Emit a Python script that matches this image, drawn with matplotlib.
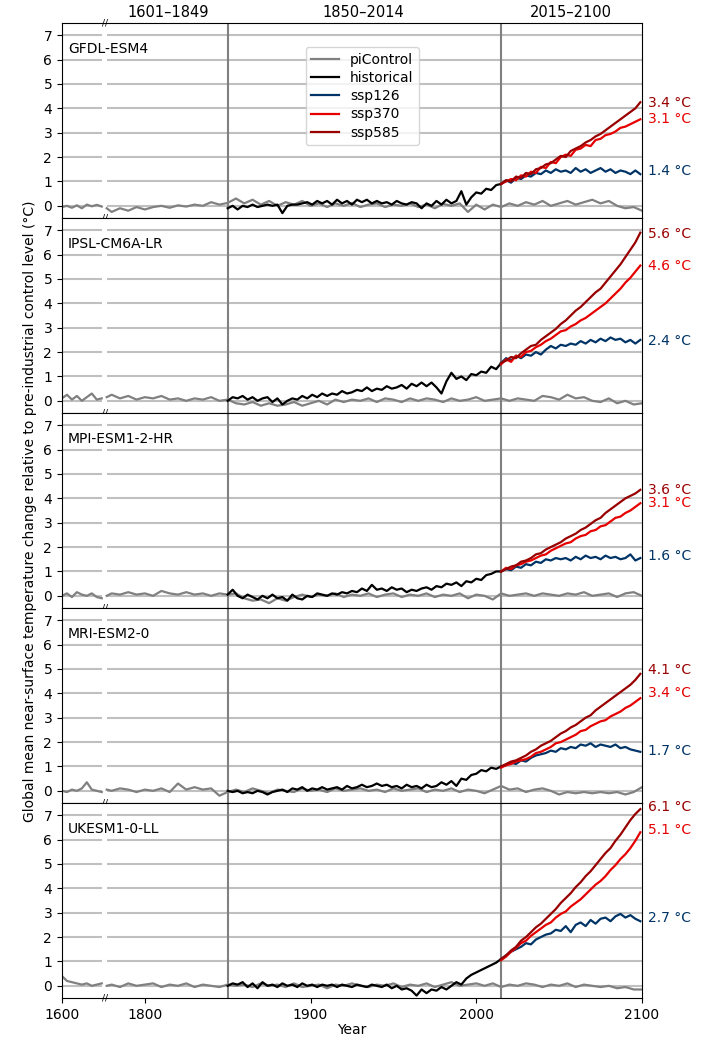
import numpy as np
import matplotlib
matplotlib.use("Agg")
import matplotlib.pyplot as plt
import matplotlib.transforms as mtransforms

# --- data ---
models = ["GFDL-ESM4", "IPSL-CM6A-LR", "MPI-ESM1-2-HR", "MRI-ESM2-0", "UKESM1-0-LL"]

# x positions: the 1601-1849 control block is squeezed, 1750 on the axis is labelled 1600
pi_left_years = np.arange(1750, 1775, 3)
pi_right_years = np.r_[1777, np.arange(1780, 2101, 5)]
hist_years = np.arange(1850, 2016, 3)
ssp_years = np.arange(2015, 2101, 3)

pi_left = [
    [-0.05, 0.00, -0.08, 0.02, -0.10, 0.05, -0.02, 0.04, -0.03],
    [0.10, 0.25, 0.05, 0.20, 0.00, 0.15, 0.30, 0.05, 0.10],
    [0.00, 0.10, -0.05, 0.15, 0.05, 0.00, 0.10, -0.05, -0.10],
    [0.00, -0.05, 0.05, 0.00, 0.10, 0.35, 0.05, 0.00, -0.05],
    [0.40, 0.20, 0.15, 0.10, 0.05, 0.10, 0.00, 0.05, 0.10],
]

pi_right = [
    [-0.10, -0.25, -0.10, -0.20, -0.05, -0.15, -0.05, 0.00, -0.08, 0.02,
     -0.03, 0.05, 0.00, 0.15, 0.05, 0.12, 0.30, 0.10, 0.25, 0.05,
     0.20, 0.00, 0.15, 0.05, 0.20, 0.00, 0.10, -0.05, 0.10, 0.00,
     0.12, -0.05, 0.05, 0.10, -0.05, 0.05, 0.00, 0.10, -0.05, 0.05,
     -0.10, 0.08, 0.00, 0.10, -0.25, 0.05, -0.15, 0.05, -0.05, 0.10,
     0.00, 0.15, 0.05, 0.20, 0.00, 0.10, 0.20, 0.05, 0.15, 0.25,
     0.10, 0.20, 0.00, -0.10, -0.05, -0.20],
    [0.15, 0.25, 0.10, 0.20, 0.05, 0.15, 0.10, 0.20, 0.05, 0.10,
     0.00, 0.10, 0.05, 0.15, 0.00, 0.05, -0.10, -0.15, -0.05, -0.20,
     -0.10, -0.20, -0.15, -0.05, -0.20, -0.10, 0.00, -0.15, 0.05, -0.05,
     0.05, 0.00, 0.10, -0.05, 0.10, 0.05, -0.05, 0.10, 0.00, 0.10,
     0.05, -0.05, 0.10, 0.00, 0.05, 0.15, 0.00, 0.05, 0.10, 0.00,
     0.10, 0.05, 0.00, 0.20, 0.15, 0.05, 0.25, 0.10, 0.15, 0.00,
     -0.05, 0.10, -0.10, 0.00, -0.15, -0.10],
    [0.00, 0.10, 0.05, 0.15, 0.05, 0.10, 0.00, 0.20, 0.10, 0.05,
     0.15, 0.05, 0.10, 0.00, 0.10, 0.05, 0.10, -0.10, -0.20, -0.15,
     -0.30, -0.10, -0.20, -0.05, 0.05, -0.05, 0.05, 0.00, 0.10, -0.05,
     0.05, 0.00, 0.10, -0.05, 0.05, 0.10, -0.05, 0.05, 0.00, 0.10,
     -0.05, 0.05, 0.00, 0.10, -0.10, 0.05, 0.00, -0.15, 0.10, 0.00,
     0.05, 0.10, 0.00, 0.10, 0.05, 0.00, 0.10, 0.05, 0.15, 0.00,
     0.05, 0.10, -0.05, 0.10, 0.15, 0.00],
    [0.05, 0.00, 0.10, 0.05, -0.05, 0.05, 0.00, 0.10, -0.05, 0.30,
     0.05, 0.15, 0.05, 0.10, -0.20, -0.05, 0.05, -0.05, 0.10, 0.00,
     -0.10, 0.05, 0.00, -0.05, 0.10, 0.00, 0.05, -0.05, 0.10, 0.00,
     0.05, 0.10, 0.00, 0.05, -0.05, 0.10, 0.00, 0.05, 0.10, -0.05,
     0.05, 0.00, 0.10, -0.05, 0.05, 0.00, -0.10, 0.05, 0.20, 0.05,
     0.10, -0.05, 0.05, 0.10, 0.00, -0.15, -0.05, -0.10, -0.05, -0.10,
     -0.05, -0.10, -0.05, -0.15, -0.05, 0.15],
    [0.00, 0.05, -0.05, 0.10, 0.00, 0.05, 0.10, -0.05, 0.05, 0.00,
     0.10, -0.05, 0.05, 0.00, -0.05, 0.05, 0.00, 0.05, -0.05, 0.10,
     0.00, 0.05, -0.05, 0.10, -0.05, 0.00, 0.05, -0.10, 0.05, 0.00,
     0.10, 0.00, -0.05, 0.05, 0.00, 0.10, -0.05, 0.05, 0.00, 0.10,
     -0.05, 0.05, 0.15, 0.00, 0.05, 0.10, 0.00, 0.10, -0.05, 0.05,
     0.00, 0.10, 0.05, -0.05, 0.05, 0.00, 0.10, -0.05, 0.05, 0.00,
     -0.05, 0.00, -0.10, -0.05, -0.15, -0.15],
]

historical = [
    [-0.10, 0.00, -0.15, 0.00, -0.05, 0.05, -0.05, 0.00, 0.05, 0.00,
     0.05, -0.30, 0.00, 0.05, 0.05, 0.10, 0.15, 0.05, 0.20, 0.10,
     0.20, 0.05, 0.25, 0.10, 0.20, 0.05, 0.25, 0.15, 0.25, 0.10,
     0.20, 0.10, 0.15, 0.05, 0.20, 0.10, 0.05, 0.15, 0.10, -0.10,
     0.10, 0.00, 0.20, 0.05, 0.25, 0.10, 0.20, 0.60, 0.05, 0.35,
     0.55, 0.50, 0.70, 0.65, 0.85, 0.90],
    [0.00, 0.15, 0.10, 0.20, 0.05, 0.15, 0.00, 0.10, 0.15, -0.05,
     0.10, -0.15, 0.00, 0.10, 0.05, 0.20, 0.10, 0.25, 0.15, 0.30,
     0.20, 0.30, 0.25, 0.40, 0.30, 0.35, 0.45, 0.40, 0.55, 0.40,
     0.50, 0.45, 0.60, 0.50, 0.55, 0.65, 0.50, 0.70, 0.60, 0.75,
     0.60, 0.75, 0.55, 0.30, 0.80, 1.15, 0.90, 1.00, 0.85, 1.10,
     1.05, 1.20, 1.15, 1.40, 1.30, 1.55],
    [0.05, 0.25, 0.00, -0.10, 0.05, -0.05, -0.15, 0.00, -0.10, 0.05,
     -0.10, -0.05, -0.20, 0.05, -0.10, -0.15, 0.00, -0.05, 0.10, 0.05,
     0.00, 0.10, 0.05, 0.15, 0.10, 0.20, 0.15, 0.30, 0.20, 0.45,
     0.25, 0.30, 0.20, 0.35, 0.25, 0.30, 0.15, 0.25, 0.20, 0.30,
     0.35, 0.25, 0.40, 0.35, 0.50, 0.45, 0.55, 0.40, 0.60, 0.55,
     0.70, 0.65, 0.85, 0.90, 1.00, 1.00],
    [0.00, -0.05, 0.00, -0.10, -0.05, -0.10, 0.00, -0.05, -0.15, -0.05,
     0.00, 0.05, -0.05, 0.10, 0.05, 0.15, 0.00, 0.10, 0.05, 0.15,
     0.05, 0.10, 0.15, 0.05, 0.20, 0.10, 0.15, 0.25, 0.15, 0.20,
     0.30, 0.20, 0.25, 0.15, 0.20, 0.10, 0.25, 0.15, 0.20, 0.10,
     0.25, 0.15, 0.20, 0.35, 0.25, 0.40, 0.20, 0.50, 0.45, 0.65,
     0.70, 0.85, 0.80, 0.95, 0.90, 1.00],
    [0.00, 0.10, 0.05, 0.15, -0.05, 0.10, -0.10, 0.15, 0.00, 0.05,
     -0.05, 0.10, 0.00, 0.05, -0.05, 0.10, 0.00, 0.05, -0.05, 0.05,
     0.00, 0.05, -0.05, 0.05, 0.00, -0.05, 0.05, 0.00, -0.05, 0.05,
     0.00, -0.05, 0.05, -0.10, 0.00, -0.15, -0.10, -0.20, -0.40, -0.15,
     -0.30, -0.15, -0.20, -0.05, -0.15, 0.00, 0.15, 0.05, 0.30, 0.45,
     0.55, 0.65, 0.75, 0.85, 0.95, 1.10],
]

ssp126 = [
    [0.90, 1.05, 0.95, 1.15, 1.10, 1.25, 1.20, 1.35, 1.30, 1.45,
     1.35, 1.50, 1.40, 1.45, 1.35, 1.55, 1.40, 1.50, 1.35, 1.45,
     1.55, 1.40, 1.50, 1.35, 1.45, 1.40, 1.30, 1.45, 1.30],
    [1.55, 1.75, 1.65, 1.85, 1.75, 1.90, 1.85, 2.00, 1.90, 2.10,
     2.25, 2.15, 2.30, 2.25, 2.35, 2.30, 2.45, 2.35, 2.50, 2.40,
     2.55, 2.45, 2.60, 2.50, 2.55, 2.40, 2.50, 2.35, 2.50],
    [1.00, 1.10, 1.05, 1.20, 1.15, 1.30, 1.25, 1.40, 1.35, 1.50,
     1.45, 1.55, 1.50, 1.55, 1.45, 1.60, 1.50, 1.65, 1.55, 1.60,
     1.50, 1.65, 1.55, 1.60, 1.50, 1.55, 1.70, 1.45, 1.55],
    [1.00, 1.05, 1.15, 1.10, 1.25, 1.20, 1.35, 1.45, 1.50, 1.55,
     1.65, 1.60, 1.75, 1.70, 1.80, 1.75, 1.90, 1.85, 1.95, 1.80,
     1.90, 1.85, 1.80, 1.90, 1.75, 1.80, 1.70, 1.65, 1.60],
    [1.10, 1.25, 1.40, 1.50, 1.60, 1.75, 1.70, 1.90, 2.00, 2.10,
     2.15, 2.30, 2.25, 2.45, 2.20, 2.50, 2.60, 2.45, 2.70, 2.55,
     2.75, 2.80, 2.65, 2.85, 2.95, 2.80, 2.90, 2.75, 2.65],
]

ssp370 = [
    [0.90, 1.00, 1.10, 1.05, 1.25, 1.20, 1.40, 1.35, 1.60, 1.55,
     1.80, 1.75, 2.00, 2.10, 2.05, 2.30, 2.35, 2.50, 2.45, 2.70,
     2.75, 2.90, 2.95, 3.05, 3.20, 3.25, 3.35, 3.45, 3.55],
    [1.50, 1.70, 1.60, 1.85, 1.80, 2.00, 2.05, 2.20, 2.30, 2.45,
     2.55, 2.70, 2.85, 2.90, 3.05, 3.15, 3.30, 3.40, 3.55, 3.70,
     3.85, 4.00, 4.20, 4.40, 4.60, 4.85, 5.05, 5.30, 5.55],
    [1.00, 1.15, 1.10, 1.25, 1.30, 1.40, 1.45, 1.55, 1.65, 1.70,
     1.85, 1.95, 2.05, 2.15, 2.20, 2.35, 2.45, 2.50, 2.65, 2.70,
     2.85, 2.90, 3.05, 3.20, 3.25, 3.40, 3.50, 3.65, 3.80],
    [0.95, 1.05, 1.10, 1.20, 1.25, 1.30, 1.40, 1.55, 1.60, 1.70,
     1.80, 1.95, 2.00, 2.10, 2.20, 2.30, 2.45, 2.50, 2.65, 2.75,
     2.85, 2.90, 3.05, 3.15, 3.25, 3.40, 3.50, 3.65, 3.80],
    [1.05, 1.20, 1.40, 1.55, 1.75, 1.85, 2.05, 2.20, 2.35, 2.50,
     2.60, 2.80, 2.95, 3.05, 3.25, 3.40, 3.55, 3.75, 3.95, 4.15,
     4.30, 4.50, 4.75, 4.95, 5.20, 5.40, 5.65, 5.95, 6.30],
]

ssp585 = [
    [0.90, 1.05, 1.00, 1.20, 1.15, 1.35, 1.30, 1.50, 1.55, 1.70,
     1.75, 1.90, 2.05, 2.00, 2.25, 2.35, 2.45, 2.60, 2.70, 2.85,
     2.95, 3.10, 3.25, 3.40, 3.55, 3.70, 3.85, 4.00, 4.25],
    [1.55, 1.65, 1.80, 1.75, 1.95, 2.10, 2.25, 2.30, 2.50, 2.65,
     2.80, 2.95, 3.15, 3.30, 3.50, 3.70, 3.85, 4.05, 4.25, 4.45,
     4.60, 4.85, 5.10, 5.35, 5.60, 5.90, 6.20, 6.50, 6.90],
    [1.00, 1.10, 1.20, 1.25, 1.40, 1.45, 1.55, 1.70, 1.75, 1.90,
     2.00, 2.10, 2.20, 2.35, 2.45, 2.55, 2.70, 2.80, 2.95, 3.10,
     3.20, 3.40, 3.55, 3.70, 3.85, 4.00, 4.10, 4.20, 4.35],
    [1.00, 1.10, 1.20, 1.25, 1.35, 1.45, 1.60, 1.70, 1.85, 1.95,
     2.05, 2.20, 2.35, 2.45, 2.60, 2.70, 2.85, 3.00, 3.10, 3.30,
     3.45, 3.60, 3.75, 3.90, 4.05, 4.20, 4.35, 4.55, 4.80],
    [1.10, 1.25, 1.45, 1.60, 1.85, 2.00, 2.20, 2.40, 2.55, 2.75,
     2.95, 3.15, 3.40, 3.60, 3.80, 4.05, 4.25, 4.50, 4.70, 4.95,
     5.20, 5.45, 5.65, 5.95, 6.20, 6.50, 6.80, 7.05, 7.25],
]

# warming labels at the right edge (text value, and height where it sits)
lab585 = [3.4, 5.6, 3.6, 4.1, 6.1]
lab370 = [3.1, 4.6, 3.1, 3.4, 5.1]
lab126 = [1.4, 2.4, 1.6, 1.7, 2.7]
lab585_y = [4.22, 6.84, 4.34, 4.95, 7.33]
lab370_y = [3.57, 5.52, 3.80, 4.00, 6.39]
lab126_y = [1.43, 2.45, 1.63, 1.63, 2.78]

c_pi = "#808080"
c_hist = "black"
c126 = "#003466"
c370 = "#e60000"
c585 = "#990000"

fig, axes = plt.subplots(5, 1, figsize=(7.01, 10.37), dpi=100, sharex=True)
fig.subplots_adjust(left=0.0884, right=0.9158, top=0.9778, bottom=0.0376, hspace=0)

for i, ax in enumerate(axes):
    ax.set_ylim(-0.5, 7.5)
    ax.set_xlim(1750, 2100)
    ax.set_yticks(range(0, 8))
    ax.grid(axis="y", color="#c0c0c0", linewidth=1.5)
    ax.set_axisbelow(True)
    ax.tick_params(labelsize=10)
    # white gap for the broken axis
    ax.axvspan(1774.4, 1777.2, color="white", zorder=1, lw=0)
    ax.axvline(1850, color="#808080", lw=1.5, zorder=1.5)
    ax.axvline(2015, color="#808080", lw=1.5, zorder=1.5)

    ax.plot(pi_left_years, pi_left[i], color=c_pi, lw=1.6, label="piControl")
    ax.plot(pi_right_years, pi_right[i], color=c_pi, lw=1.6)
    ax.plot(hist_years, historical[i], color=c_hist, lw=1.6, label="historical")
    ax.plot(ssp_years, ssp126[i], color=c126, lw=1.6, label="ssp126")
    ax.plot(ssp_years, ssp370[i], color=c370, lw=1.6, label="ssp370")
    ax.plot(ssp_years, ssp585[i], color=c585, lw=1.6, label="ssp585")

    ax.text(0.01, 0.867, models[i], transform=ax.transAxes, fontsize=10, va="center")

    tr = mtransforms.blended_transform_factory(ax.transAxes, ax.transData)
    ax.text(1.01, lab585_y[i], f"{lab585[i]} °C", color=c585, transform=tr, fontsize=10, va="center")
    ax.text(1.01, lab370_y[i], f"{lab370[i]} °C", color=c370, transform=tr, fontsize=10, va="center")
    ax.text(1.01, lab126_y[i], f"{lab126[i]} °C", color=c126, transform=tr, fontsize=10, va="center")

    trx = mtransforms.blended_transform_factory(ax.transData, ax.transAxes)
    ax.text(1775.8, 0.0, "//", transform=trx, fontsize=6.5, ha="center", va="center")
    if i == 0:
        ax.text(1775.8, 1.0, "//", transform=trx, fontsize=6.5, ha="center", va="center")
    if i < 4:
        ax.tick_params(axis="x", bottom=False)

axes[0].legend(loc="upper left", bbox_to_anchor=(0.42, 0.875), fontsize=10,
               handlelength=2.0, labelspacing=0.3, borderaxespad=0)

# period headers above the top panel
trtop = mtransforms.blended_transform_factory(axes[0].transData, axes[0].transAxes)
for xc, txt in zip([1814, 1932, 2057], ["1601–1849", "1850–2014", "2015–2100"]):
    axes[0].text(xc, 1.015, txt, transform=trtop, fontsize=10.5, ha="center", va="bottom")

axes[-1].set_xticks([1750, 1800, 1900, 2000, 2100])
axes[-1].set_xticklabels(["1600", "1800", "1900", "2000", "2100"])
axes[-1].set_xlabel("Year", fontsize=10, labelpad=1)

fig.text(0.043, 0.507,
         "Global mean near-surface temperature change relative to pre-industrial control level (°C)",
         rotation=90, ha="center", va="center", fontsize=10)

fig.savefig("out.png", dpi=100)
